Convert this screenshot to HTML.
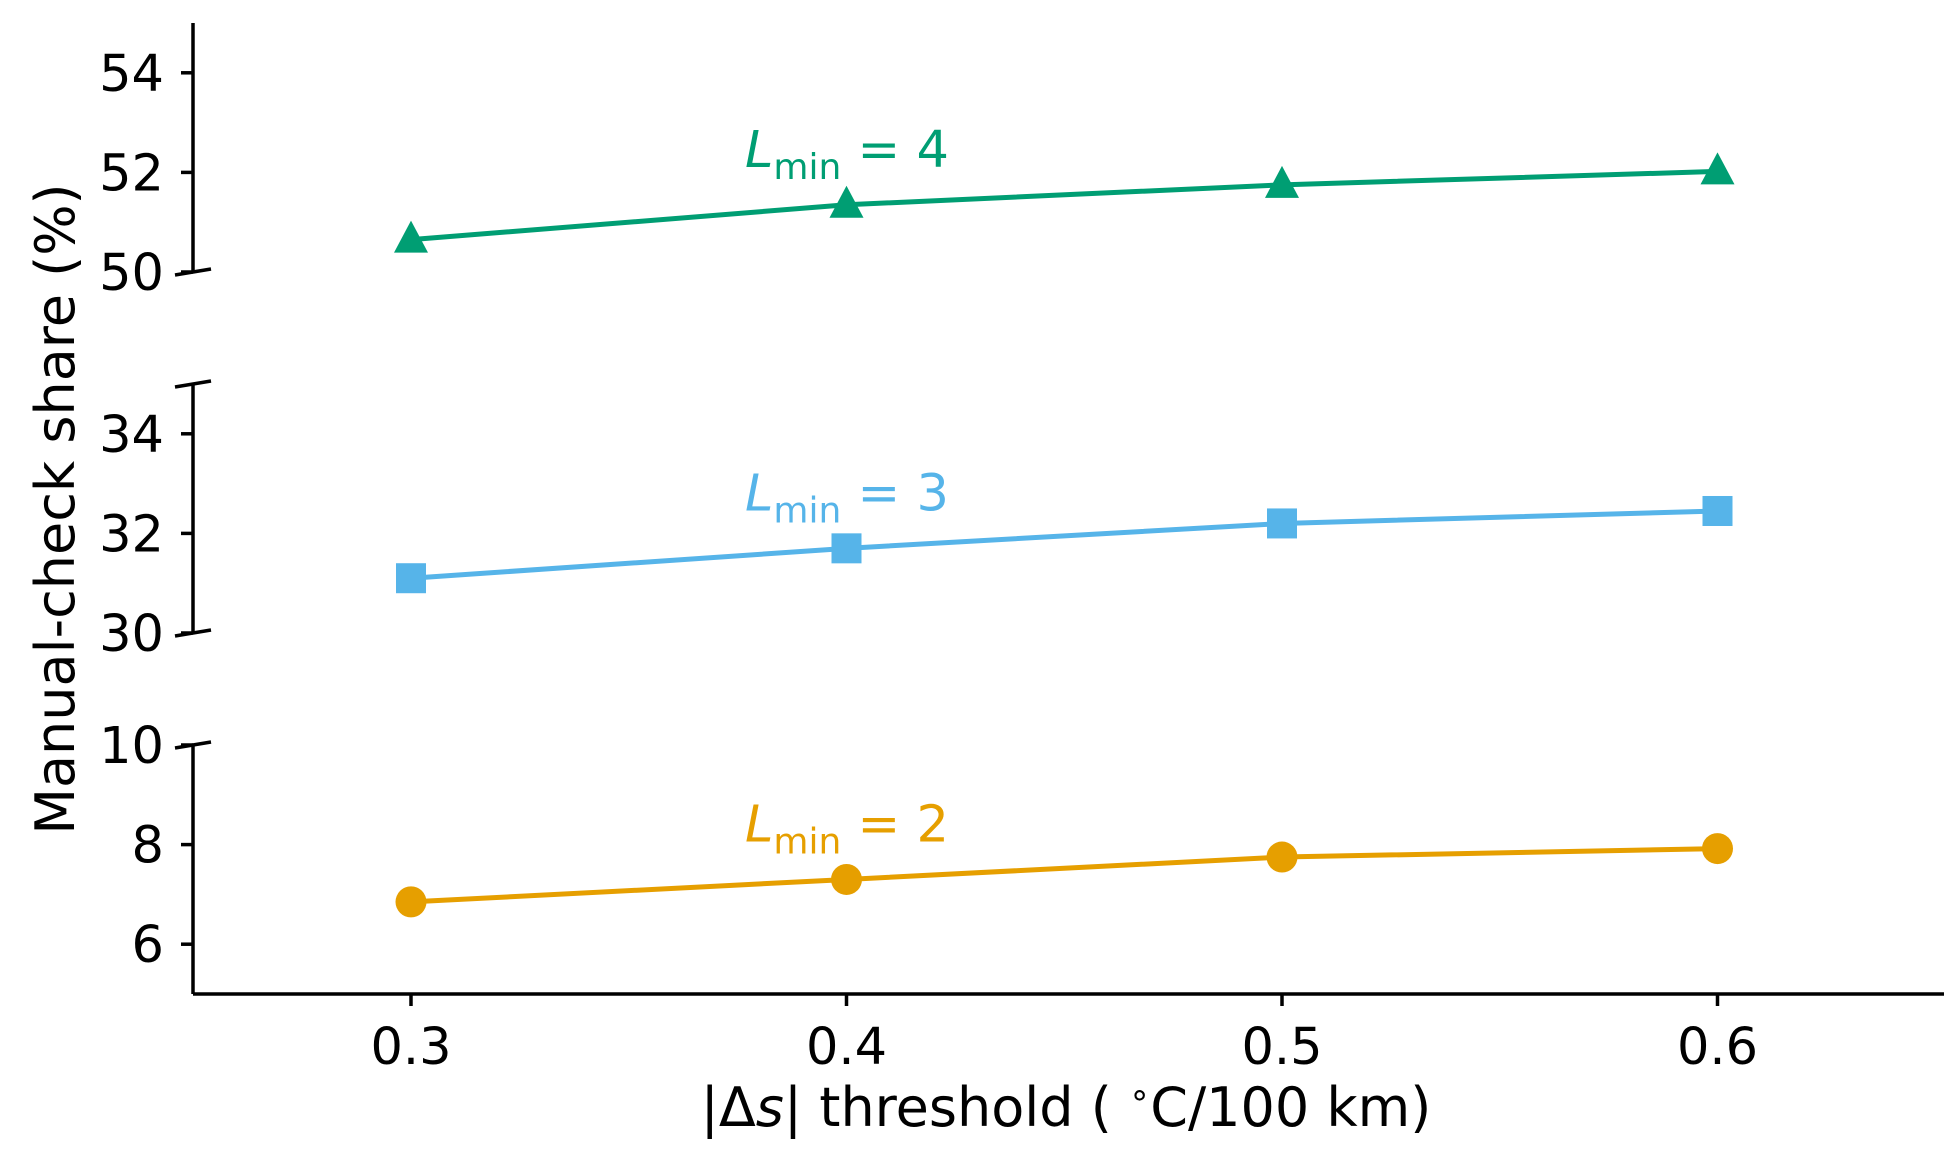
<!DOCTYPE html>
<html><head><meta charset="utf-8"><style>
html,body{margin:0;padding:0;background:#fff}
svg{display:block}
text{font-family:"DejaVu Sans","Liberation Sans",sans-serif;fill:#000}
</style></head><body>
<svg id="chart" width="1948" height="1156" viewBox="0 0 1948 1156" xmlns="http://www.w3.org/2000/svg"></svg>
<script>
const xValues = [0.3, 0.4, 0.5, 0.6];
const xTickLabels = ["0.3", "0.4", "0.5", "0.6"];
const seriesL2 = [6.85, 7.3, 7.75, 7.92];
const seriesL3 = [31.1, 31.7, 32.2, 32.45];
const seriesL4 = [50.65, 51.35, 51.75, 52.02];
const seriesNames = ["2", "3", "4"];
const panelRanges = [[5, 10], [30, 35], [50, 55]];
const panelTicks = [[6, 8, 10], [30, 32, 34], [50, 52, 54]];

const NS = "http://www.w3.org/2000/svg";
const svg = document.getElementById("chart");
function mk(tag, attrs, parent) {
  const e = document.createElementNS(NS, tag);
  for (const k in attrs) e.setAttribute(k, attrs[k]);
  (parent || svg).appendChild(e);
  return e;
}
const xScale = v => 411 + (v - 0.3) / 0.1 * 435.5;
const panelPix = [[994, 745], [633, 384], [272, 23]];
function yScale(p, v) {
  const [lo, hi] = panelRanges[p], [b, t] = panelPix[p];
  return b + (v - lo) / (hi - lo) * (t - b);
}
let e = mk("line", {x1: 193, y1: 994, x2: 1944, y2: 994, stroke: "#000", "stroke-width": 3.5});


xValues.forEach((v, i) => {
  const x = xScale(v);
  mk("line", {x1: x, y1: 994, x2: x, y2: 1006, stroke: "#000", "stroke-width": 3.5});
  const t = mk("text", {x: x, y: 1064, "font-size": 51, "text-anchor": "middle"});
  t.textContent = xTickLabels[i];
  
  
});
for (let p = 0; p < 3; p++) {
  const [b, t] = panelPix[p];
  const sp = mk("line", {x1: 193, y1: b, x2: 193, y2: t, stroke: "#000", "stroke-width": 3.5});
  
  
  if (p > 0) mk("line", {x1: 175, y1: b + 3, x2: 211, y2: b - 3, stroke: "#000", "stroke-width": 3.5});
  if (p < 2) mk("line", {x1: 175, y1: t + 3, x2: 211, y2: t - 3, stroke: "#000", "stroke-width": 3.5});
  panelTicks[p].forEach(v => {
    const y = yScale(p, v);
    mk("line", {x1: 181, y1: y, x2: 193, y2: y, stroke: "#000", "stroke-width": 3.5});
    const tl = mk("text", {x: 164, y: y + 18, "font-size": 51, "text-anchor": "end"});
    tl.textContent = String(v);
    
    
  });
}
const all = [[seriesL2, "#E69F00", 0, "circle"], [seriesL3, "#56B4E9", 1, "square"], [seriesL4, "#009E73", 2, "triangle"]];
all.forEach(([data, col, p, shape], si) => {
  const pts = data.map((v, i) => [xScale(xValues[i]), yScale(p, v)]);
  const pl = mk("polyline", {points: pts.map(q => q.join(",")).join(" "), fill: "none", stroke: col, "stroke-width": 5});
  
  
  pts.forEach(([x, y]) => {
    let m;
    if (shape === "circle") m = mk("circle", {cx: x, cy: y, r: 15.5, fill: col});
    else if (shape === "square") m = mk("rect", {x: x - 15, y: y - 15, width: 30, height: 30, fill: col});
    else m = mk("polygon", {points: `${x},${y - 19} ${x - 17},${y + 13} ${x + 17},${y + 13}`, fill: col});
    
    
  });
  const ly = yScale(p, data[1]) - 38;
  const lab = mk("text", {x: 745, y: ly, "font-size": 51, fill: col});
  lab.innerHTML = '<tspan font-style="italic" fill="' + col + '">L</tspan><tspan dy="12" font-size="36" fill="' + col + '">min</tspan><tspan dy="-12" fill="' + col + '"> = ' + seriesNames[si] + '</tspan>';
  
  
});
let yt = mk("text", {x: 0, y: 0, "font-size": 54, "text-anchor": "middle", transform: "translate(74,509) rotate(-90)"});
yt.textContent = "Manual-check share (%)";


let xt = mk("text", {x: 1066, y: 1126, "font-size": 54, "text-anchor": "middle"});
xt.innerHTML = '|Δ<tspan font-style="italic">s</tspan>| threshold ( <tspan font-size="34" dy="-20">∘</tspan><tspan dy="20">C/100 km)</tspan>';


</script>
</body></html>
